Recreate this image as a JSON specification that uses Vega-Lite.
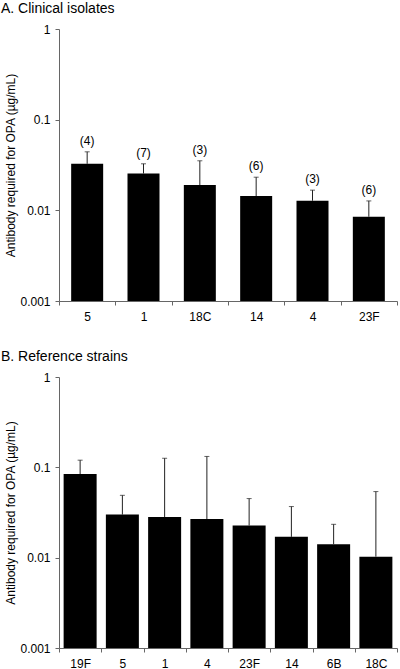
{
  "$schema": "https://vega.github.io/schema/vega-lite/v6.json",
  "padding": {"left": 0, "top": 2, "right": 0, "bottom": 0},
  "config": {
    "font": "Liberation Sans",
    "view": {"stroke": null},
    "axis": {"labelFont": "Liberation Sans", "titleFont": "Liberation Sans", "labelColor": "#000", "titleColor": "#000", "domainColor": "#666", "tickColor": "#666", "grid": false},
    "title": {"font": "Liberation Sans", "fontSize": 14, "fontWeight": "normal", "anchor": "start", "frame": "bounds", "color": "#000"}
  },
  "spacing": 28,
  "vconcat": [
    {
      "title": {"text": "A. Clinical isolates", "dx": -4, "offset": 7},
      "width": 338,
      "height": 272,
      "data": {"values": [
        {"s": "5", "v": 0.0326, "e": 0.0442, "n": "(4)"},
        {"s": "1", "v": 0.0255, "e": 0.0326, "n": "(7)"},
        {"s": "18C", "v": 0.019, "e": 0.0352, "n": "(3)"},
        {"s": "14", "v": 0.01436, "e": 0.0232, "n": "(6)"},
        {"s": "4", "v": 0.01277, "e": 0.0167, "n": "(3)"},
        {"s": "23F", "v": 0.0085, "e": 0.0127, "n": "(6)"}
      ]},
      "encoding": {
        "x": {"field": "s", "type": "nominal", "sort": null, "title": null,
              "scale": {"paddingInner": 0, "paddingOuter": 0},
              "axis": {"labelAngle": 0, "labelFontSize": 12, "tickBand": "extent", "tickSize": 4, "labelPadding": 6}}
      },
      "layer": [
        {"mark": {"type": "rule", "color": "#222", "strokeWidth": 1},
         "encoding": {"y": {"field": "v", "type": "quantitative"}, "y2": {"field": "e"}}},
        {"mark": {"type": "tick", "color": "#222", "size": 5, "thickness": 1},
         "encoding": {"y": {"field": "e", "type": "quantitative"}}},
        {"mark": {"type": "bar", "color": "#000", "size": 32},
         "encoding": {"y": {"field": "v", "type": "quantitative",
                            "scale": {"type": "log", "domain": [0.001, 1]},
                            "title": "Antibody required for OPA (µg/mL)",
                            "axis": {"values": [0.001, 0.01, 0.1, 1], "format": "~g", "labelFontSize": 12, "titleFontSize": 12, "titleFontWeight": "normal", "tickSize": 4, "labelPadding": 5, "titlePadding": 2}},
                      "y2": {"datum": 0.001}}},
        {"mark": {"type": "text", "fontSize": 12, "dy": -11, "color": "#000"},
         "encoding": {"y": {"field": "e", "type": "quantitative"}, "text": {"field": "n"}}}
      ]
    },
    {
      "title": {"text": "B.  Reference strains", "dx": -4, "offset": 7},
      "width": 338,
      "height": 271,
      "data": {"values": [
        {"s": "19F", "v": 0.0843, "e": 0.12},
        {"s": "5", "v": 0.030, "e": 0.049},
        {"s": "1", "v": 0.0282, "e": 0.126},
        {"s": "4", "v": 0.0268, "e": 0.132},
        {"s": "23F", "v": 0.0227, "e": 0.0451},
        {"s": "14", "v": 0.017, "e": 0.0368},
        {"s": "6B", "v": 0.0141, "e": 0.0234},
        {"s": "18C", "v": 0.01026, "e": 0.0539}
      ]},
      "encoding": {
        "x": {"field": "s", "type": "nominal", "sort": null, "title": null,
              "scale": {"paddingInner": 0, "paddingOuter": 0},
              "axis": {"labelAngle": 0, "labelFontSize": 12, "tickBand": "extent", "tickSize": 4, "labelPadding": 6}}
      },
      "layer": [
        {"mark": {"type": "rule", "color": "#222", "strokeWidth": 1},
         "encoding": {"y": {"field": "v", "type": "quantitative"}, "y2": {"field": "e"}}},
        {"mark": {"type": "tick", "color": "#222", "size": 5, "thickness": 1},
         "encoding": {"y": {"field": "e", "type": "quantitative"}}},
        {"mark": {"type": "bar", "color": "#000", "size": 33},
         "encoding": {"y": {"field": "v", "type": "quantitative",
                            "scale": {"type": "log", "domain": [0.001, 1]},
                            "title": "Antibody required for OPA (µg/mL)",
                            "axis": {"values": [0.001, 0.01, 0.1, 1], "format": "~g", "labelFontSize": 12, "titleFontSize": 12, "titleFontWeight": "normal", "tickSize": 4, "labelPadding": 5, "titlePadding": 2}},
                      "y2": {"datum": 0.001}}}
      ]
    }
  ]
}
